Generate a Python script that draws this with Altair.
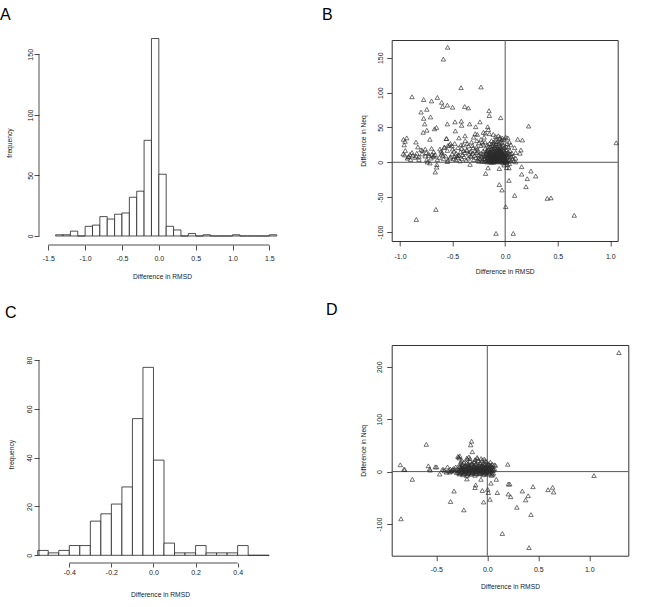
import altair as alt
import pandas as pd

FONT = "Liberation Sans"
INK = "#222222"
MINUS = "\u2212"

# ---------------- data ----------------
# Panel A histogram: bin edges and counts
a_edges = [-1.4, -1.3, -1.2, -1.1, -1.0, -0.9, -0.8, -0.7, -0.6, -0.5, -0.4, -0.3,
           -0.2, -0.1, 0.0, 0.1, 0.2, 0.3, 0.4, 0.5, 0.6, 0.7, 0.8, 0.9, 1.0, 1.1,
           1.2, 1.3, 1.4, 1.5, 1.6]
a_counts = [1, 1, 4, 0, 8, 9, 16, 14, 18, 19, 32, 37, 79, 163, 51, 8, 5, 0, 2, 0,
            1, 0, 0, 0, 1, 0, 0, 0, 0, 1]

# Panel C histogram
c_edges = [-0.55, -0.5, -0.45, -0.4, -0.35, -0.3, -0.25, -0.2, -0.15, -0.1, -0.05,
           0.0, 0.05, 0.1, 0.15, 0.2, 0.25, 0.3, 0.35, 0.4, 0.45, 0.5, 0.55]
c_counts = [2, 1, 2, 4, 4, 14, 17, 21, 28, 56, 77, 39, 5, 1, 1, 4, 1, 1, 1, 4, 0, 0]

# Panel B scatter (Difference in RMSD, Difference in Neq)
b_points = [
    (-0.547, 165), (-0.588, 148), (-0.42, 107), (-0.23, 108), (-0.886, 94), (-0.775, 90),
    (-0.70, 88), (-0.645, 93), (-0.604, 86), (-0.595, 80), (-0.55, 82), (-0.50, 79),
    (-0.385, 80), (-0.35, 78), (-0.745, 76), (-0.80, 72), (-0.775, 63), (-0.71, 65),
    (-0.154, 74), (-0.151, 67), (-0.043, 64), (0.223, 52), (-0.765, 55), (-0.653, 50),
    (-0.672, 48), (-0.55, 55), (-0.477, 58), (-0.417, 59), (-0.414, 53), (-0.338, 55),
    (-0.24, 58), (-0.28, 51), (-0.166, 51), (-0.745, 46), (-0.78, 43), (-0.474, 45),
    (-0.382, 38), (-0.44, 35), (-0.56, 34), (-0.716, 33), (-0.936, 35), (-0.952, 30),
    (-0.96, 25), (-0.967, 33), (-0.848, 29), (-0.83, 22), (-0.788, 17), (-0.76, 19),
    (-0.886, 14), (-0.905, 11.5), (-0.955, 10.5), (-0.917, 8), (-0.848, 9), (-0.82, 7.7),
    (-0.745, 3.8), (-0.74, 0.5), (-0.716, -1), (-0.73, 12.5), (-0.697, 11.5), (-0.678, 9.6),
    (-0.65, -3.4), (-0.665, -14), (-0.652, -7), (-0.659, -67.6), (-0.845, -82),
    (-0.61, 16), (-0.59, 10), (-0.557, 34), (-0.545, 24), (-0.577, 22), (-0.52, 27),
    (-0.506, 23.5), (-0.486, 16), (-0.46, 9), (-0.44, 10), (-0.55, 1), (-0.49, 5),
    (-0.52, 7.7), (-0.42, 25), (-0.395, 17), (-0.414, 20), (-0.363, 17), (-0.35, 23.5),
    (-0.334, 15), (-0.322, 8.6), (-0.334, -3), (-0.312, 24), (-0.30, 36), (-0.285, 41),
    (-0.265, 40), (-0.27, 22), (-0.26, 16), (-0.25, 1.4), (-0.217, 29), (-0.207, 43),
    (-0.19, 42), (-0.16, 47), (-0.15, 41), (-0.186, -16), (-0.163, -8), (-0.113, 40),
    (-0.09, 37), (-0.065, 38), (-0.05, 34), (-0.027, 35), (0.005, 36), (0.025, 35),
    (0.04, 29), (0.055, 25), (-0.056, -9), (-0.056, -32), (-0.03, -39.7), (0.036, -26),
    (0.015, -7.6), (0.036, -8), (0.005, -63.6), (-0.087, -102), (0.077, -102),
    (0.09, -47.5), (0.119, 33), (0.163, 32), (0.15, 17.6), (0.14, 13), (0.1, 6),
    (0.1, 0.6), (0.157, -6.3), (0.157, -17), (0.245, -12.6), (0.21, -23.5), (0.29, -19.7),
    (0.198, -35), (0.40, -51.7), (0.435, -51), (0.657, -76), (1.056, 28),
    # dense cluster near the origin
    (-0.02, 2), (-0.01, 5), (0.0, 8), (0.01, 3), (0.02, 6), (-0.03, 10), (-0.04, 4),
    (-0.05, 7), (-0.06, 2), (-0.07, 9), (-0.08, 5), (-0.09, 3), (-0.10, 6), (-0.11, 2),
    (-0.12, 8), (-0.13, 4), (-0.14, 1), (-0.15, 6), (-0.16, 3), (-0.17, 9), (-0.18, 2),
    (-0.19, 5), (-0.20, 1), (-0.02, 12), (-0.03, 15), (-0.04, 18), (-0.05, 13),
    (-0.06, 16), (-0.07, 20), (-0.08, 12), (-0.09, 14), (-0.10, 17), (-0.11, 11),
    (-0.12, 13), (-0.13, 10), (-0.14, 12), (-0.15, 15), (-0.16, 11), (-0.18, 13),
    (-0.20, 10), (-0.22, 8), (-0.24, 5), (-0.26, 3), (-0.28, 7), (-0.30, 4),
    (0.0, 14), (0.01, 18), (0.02, 11), (0.03, 9), (0.04, 4), (0.03, 15), (-0.01, 21),
    (-0.02, 25), (-0.03, 28), (-0.05, 23), (-0.06, 27), (-0.08, 22), (-0.09, 26),
    (-0.1, 21), (-0.12, 24), (-0.13, 19), (-0.14, 22), (-0.16, 19), (-0.17, 17),
    (-0.19, 20), (-0.21, 16), (-0.23, 13), (-0.25, 11), (-0.27, 14), (-0.29, 10),
    (-0.31, 13), (-0.33, 9), (-0.35, 6), (-0.37, 3), (-0.39, 8), (-0.41, 5), (-0.43, 2),
    (-0.45, 7), (-0.47, 4), (-0.04, 1), (-0.07, 0.5), (-0.11, 0), (-0.15, 0.5),
    (-0.02, -1), (0.0, 0.5), (0.02, 1), (-0.06, 3.5), (-0.09, 7.5), (-0.035, 6.5),
    (-0.015, 9.5), (-0.055, 11), (-0.085, 9.5), (-0.115, 4.5), (-0.135, 7), (-0.165, 6.5),
    (-0.125, 1.5), (-0.095, 1), (-0.075, 14), (-0.045, 16), (-0.025, 19), (0.005, 11),
    (0.015, 13.5), (-0.105, 11.5), (-0.145, 9), (-0.175, 4.5), (-0.185, 11), (-0.215, 4),
    (-0.235, 9.5), (-0.255, 6), (-0.265, 19), (-0.285, 17), (-0.305, 21), (-0.325, 16),
    (-0.345, 12), (-0.365, 18), (-0.385, 14), (-0.405, 11), (-0.425, 15), (-0.445, 10),
    (-0.465, 13), (-0.485, 8), (-0.505, 12), (-0.525, 6), (-0.545, 3), (-0.565, 9),
    (-0.585, 5), (-0.605, 12), (-0.625, 7), (-0.645, 4), (-0.665, 11), (-0.685, 8),
    (-0.705, 6), (-0.725, 10), (-0.76, 9), (-0.79, 12), (-0.82, 4), (-0.86, 7),
    (-0.88, 10), (-0.93, 6), (-0.97, 12), (-0.95, 17), (-0.03, 32), (-0.05, 36),
    (-0.07, 30), (-0.09, 33), (-0.11, 29), (-0.13, 31), (-0.15, 27), (-0.17, 25),
    (-0.19, 29), (-0.21, 26), (-0.23, 24), (-0.25, 28), (-0.01, 33), (0.02, 27),
    (0.03, 22), (0.045, 17), (0.05, 12), (0.06, 8), (0.07, 5), (0.08, 2), (0.04, -2),
    (0.02, -3), (-0.01, -4), (0.055, 2), (0.065, 13), (0.075, 9), (0.09, 21), (0.1, 14),
    (-0.2, 36), (-0.23, 33), (-0.27, 31), (-0.32, 29), (-0.36, 27), (-0.38, 31),
    (-0.4, 25), (-0.45, 21), (-0.48, 27), (-0.5, 19), (-0.53, 25), (-0.55, 17),
    (-0.58, 21), (-0.6, 14), (-0.62, 19), (-0.68, 15), (-0.7, 20), (-0.75, 14),
    (-0.8, 18), (-0.84, 13), (-0.9, 4), (-0.92, 8),
    (-0.005, 1), (-0.015, 3.5), (-0.025, 6), (-0.035, 2.5), (-0.045, 8.5), (-0.055, 5),
    (-0.065, 7.5), (-0.075, 3), (-0.085, 6.5), (-0.095, 4.5), (-0.105, 8), (-0.115, 1),
    (-0.125, 5.5), (-0.135, 3), (-0.145, 7), (-0.155, 2), (-0.165, 9.5), (-0.005, 6.5),
    (-0.015, 12), (-0.025, 14.5), (-0.035, 10.5), (-0.045, 13), (-0.055, 17.5),
    (-0.065, 12.5), (-0.075, 10), (-0.085, 16.5), (-0.095, 11), (-0.105, 14),
    (-0.115, 17), (-0.125, 10.5), (-0.135, 15), (-0.145, 13.5), (-0.155, 10),
    (-0.165, 16), (0.005, 4), (0.015, 8.5), (0.025, 3), (0.035, 12), (-0.01, 16.5),
    (-0.02, 9), (-0.04, 21), (-0.06, 19.5), (-0.08, 18), (-0.1, 23.5), (-0.12, 19),
    (-0.14, 17.5), (-0.16, 22.5), (-0.18, 16), (-0.07, 24), (-0.03, 23), (0.01, 22),
    (-0.11, 26.5), (-0.05, 29), (-0.09, 30), (-0.13, 26), (-0.17, 13), (-0.19, 8.5),
    (-0.21, 12.5), (-0.2, 5.5), (-0.22, 1.5), (-0.03, 0.5), (-0.08, 1.5), (-0.13, 0),
    (-0.17, 0.5), (0.01, 0), (-0.06, 9), (-0.1, 9.5), (-0.14, 10.5), (-0.02, 7.5),
    (-0.045, 3), (-0.075, 5.5), (-0.105, 3.5), (-0.12, 6.5), (-0.15, 4), (-0.09, 12.5),
    (-0.05, 15), (-0.03, 13), (-0.07, 16.5), (-0.11, 19.5), (-0.13, 14),
]

# Panel D scatter
d_points = [
    (1.29, 227), (1.046, -7.5), (-0.598, 52), (-0.853, 13), (-0.817, 4.4), (-0.735, -14.7),
    (-0.846, -90), (-0.578, 11), (-0.565, 5), (-0.51, 9), (-0.497, 9), (-0.467, -4.6),
    (-0.428, 4), (-0.39, 9), (-0.363, 5), (-0.34, 4), (-0.326, -37), (-0.36, -57),
    (-0.23, -73), (-0.288, 29), (-0.275, 26), (-0.255, 18), (-0.2, -14), (-0.196, 24),
    (-0.17, 25), (-0.163, 51), (-0.154, 58), (-0.147, 38), (-0.124, 19.6), (-0.114, -25.5),
    (-0.12, -30.6), (-0.095, 25), (-0.062, -14.7), (-0.049, -36), (-0.036, -58),
    (-0.02, 21), (0.004, -33.8), (0.01, -40), (0.026, -52.8), (0.036, -22), (0.052, -6),
    (0.069, 13), (0.088, -14.7), (0.098, -40), (0.147, -118), (0.2, 14), (0.206, -23.7),
    (0.22, -23.7), (0.206, -42.7), (0.229, -47.8), (0.29, -68), (0.343, -37), (0.376, -54),
    (0.40, -46), (0.428, -82), (0.448, -28.8), (0.409, -145), (0.595, -34.5), (0.64, -30),
    (0.65, -39), (-0.56, 3), (-0.81, 4),
    # dense cluster near the origin
    (-0.28, 2), (-0.26, 5), (-0.25, -1), (-0.24, 8), (-0.23, 3), (-0.22, 0), (-0.21, 6),
    (-0.2, -3), (-0.19, 4), (-0.18, 10), (-0.17, 1), (-0.16, 7), (-0.15, -2), (-0.14, 5),
    (-0.13, 12), (-0.12, 2), (-0.11, 8), (-0.1, -1), (-0.09, 4), (-0.08, 10), (-0.07, 1),
    (-0.06, 6), (-0.05, 14), (-0.04, 3), (-0.03, 9), (-0.02, -2), (-0.01, 5), (0.0, 11),
    (0.01, 2), (0.02, 7), (0.03, 0), (0.04, 4), (0.05, 9), (0.06, -3), (0.07, 6),
    (0.08, 12), (-0.27, 10), (-0.25, 14), (-0.23, 18), (-0.21, 12), (-0.19, 15),
    (-0.17, 20), (-0.15, 14), (-0.13, 18), (-0.11, 15), (-0.09, 21), (-0.07, 17),
    (-0.05, 22), (-0.03, 16), (-0.01, 19), (0.01, 15), (0.03, 18), (0.05, 14),
    (-0.24, -6), (-0.2, -8), (-0.16, -5), (-0.12, -7), (-0.08, -4), (-0.04, -6),
    (0.0, -5), (0.04, -7), (-0.18, -1.5), (-0.14, 0.5), (-0.1, 2.5), (-0.06, -0.5),
    (-0.02, 1.5), (0.02, 3.5), (-0.22, 2.5), (-0.26, 0), (-0.3, -2), (-0.32, 1),
    (-0.34, 3), (-0.36, 0.5), (-0.38, 2), (-0.40, -1), (-0.42, 1.5), (-0.44, 4),
    (-0.255, 8.5), (-0.215, 9.5), (-0.175, 5.5), (-0.135, 8.5), (-0.095, 6.5),
    (-0.055, 9.5), (-0.015, 7.5), (0.025, 10.5), (0.065, 3), (-0.245, 12), (-0.205, 16.5),
    (-0.165, 13), (-0.125, 10), (-0.085, 13.5), (-0.045, 11.5), (-0.005, 13),
    (0.035, 12.5), (0.015, -1), (-0.035, -1.5), (-0.075, -2), (-0.115, -3.5),
    (-0.155, -4), (-0.195, -5), (-0.235, -3), (-0.275, -4.5), (-0.29, 6), (-0.31, 9),
    (-0.33, 6), (0.045, -3), (-0.065, 3), (-0.105, 5), (-0.145, 3), (-0.185, 7.5),
    (-0.045, 5.5), (-0.005, 3), (0.055, 5.5), (-0.28, 28), (-0.27, 30), (-0.25, 22),
    (-0.2, 26), (-0.18, 28), (-0.12, 23), (-0.1, 27), (-0.06, 25), (-0.03, 24),
    (-0.29, 1), (-0.27, 3), (-0.25, 6), (-0.23, -1), (-0.21, 4), (-0.19, 1), (-0.17, 8),
    (-0.15, 3), (-0.13, 6), (-0.11, 0), (-0.09, 7), (-0.07, 4), (-0.05, 2), (-0.03, 6),
    (-0.01, 1), (0.01, 8), (0.03, 5), (0.05, 2), (-0.28, -2), (-0.24, 1.5), (-0.2, 1),
    (-0.16, 2), (-0.12, 4.5), (-0.08, 6.5), (-0.04, 8), (0.0, 6), (0.04, 9), (-0.26, 9),
    (-0.22, 11), (-0.18, 13), (-0.14, 10), (-0.1, 12), (-0.06, 11), (-0.02, 10),
    (0.02, 13), (-0.265, -3), (-0.225, -4), (-0.185, -2.5), (-0.145, -1.5),
    (-0.105, -4.5), (-0.065, -3.5), (-0.025, -4), (0.015, -3), (-0.245, 3.5),
    (-0.205, 7), (-0.165, 4), (-0.125, -0.5), (-0.085, 1.5), (-0.045, 0), (-0.005, -0.5),
    (0.035, 2), (-0.31, 4), (-0.35, 2), (-0.37, -1), (-0.27, 15), (-0.23, 9),
    (-0.19, 11.5), (-0.15, 16), (-0.11, 10), (-0.07, 14.5), (-0.03, 12.5),
]

a_xticks = [-1.5, -1.0, -0.5, 0.0, 0.5, 1.0, 1.5]
a_yticks = [0, 50, 100, 150]
c_xticks = [-0.4, -0.2, 0.0, 0.2, 0.4]
c_yticks = [0, 20, 40, 60, 80]
b_xticks = [-1.0, -0.5, 0.0, 0.5, 1.0]
b_yticks = [-100, -50, 0, 50, 100, 150]
d_xticks = [-0.5, 0.0, 0.5, 1.0]
d_yticks = [-100, 0, 100, 200]

XTITLE = "Difference in RMSD"
one = pd.DataFrame({"k": [0]})


def lab(fmt):
    return "replace(format(datum.value, '%s'), '%s', '-')" % (fmt, MINUS)


def xaxis(values, fmt, tick, lpad, tpad):
    return alt.Axis(values=values, title=XTITLE, domain=False, grid=False,
                    tickSize=tick, tickColor=INK, tickWidth=0.8,
                    labelPadding=lpad, titlePadding=tpad, labelExpr=lab(fmt),
                    labelFont=FONT, labelFontSize=7, labelColor=INK,
                    titleFont=FONT, titleFontSize=6.7, titleFontWeight="normal",
                    titleColor=INK, labelFlush=False, labelOverlap=False)


def yaxis(values, fmt, title, tick, lpad, tpad):
    return alt.Axis(values=values, title=title, domain=False, grid=False,
                    tickSize=tick, tickColor=INK, tickWidth=0.8,
                    labelPadding=lpad, titlePadding=tpad, labelExpr=lab(fmt),
                    labelAngle=270, labelAlign="center", labelBaseline="bottom",
                    labelFont=FONT, labelFontSize=7, labelColor=INK,
                    titleFont=FONT, titleFontSize=6.7, titleFontWeight="normal",
                    titleColor=INK, labelFlush=False, labelOverlap=False)


def letter_layer(txt, lx, ly):
    return alt.Chart(one).mark_text(text=txt, font=FONT, fontSize=16, align="left",
                                    baseline="alphabetic", color="black").encode(
        x=alt.value(lx), y=alt.value(ly))


def hist_panel(edges, counts, w, h, xdom, ydom, xt, yt, xline, yline, ax, ay, letter):
    df = pd.DataFrame({"x0": edges[:-1], "x1": edges[1:], "n": counts})
    bars = alt.Chart(df).mark_rect(fill="white", stroke=INK, strokeWidth=0.8).encode(
        x=alt.X("x0:Q", scale=alt.Scale(domain=xdom, nice=False, zero=False), axis=ax),
        x2="x1:Q",
        y=alt.Y("n:Q", scale=alt.Scale(domain=ydom, nice=False, zero=False), axis=ay),
        y2=alt.datum(0),
    )
    xl = alt.Chart(one).mark_rule(color=INK, strokeWidth=0.8).encode(
        x=alt.datum(xline[0]), x2=alt.datum(xline[1]), y=alt.value(h))
    yl = alt.Chart(one).mark_rule(color=INK, strokeWidth=0.8).encode(
        y=alt.datum(yline[0]), y2=alt.datum(yline[1]), x=alt.value(0))
    layers = [bars, xl, yl, letter]
    return alt.layer(*layers).properties(width=w, height=h)


def scatter_panel(points, w, h, xdom, ydom, ax, ay, letter):
    df = pd.DataFrame(points, columns=["rmsd", "neq"])
    pts = alt.Chart(df).mark_point(shape="triangle-up", filled=False, size=20,
                                   color="#2a2a2a", strokeWidth=0.65, opacity=1).encode(
        x=alt.X("rmsd:Q", scale=alt.Scale(domain=xdom, nice=False, zero=False), axis=ax),
        y=alt.Y("neq:Q", scale=alt.Scale(domain=ydom, nice=False, zero=False), axis=ay),
    )
    vl = alt.Chart(one).mark_rule(color="#555555", strokeWidth=1).encode(x=alt.datum(0))
    hl = alt.Chart(one).mark_rule(color="#555555", strokeWidth=1).encode(y=alt.datum(0))
    return alt.layer(vl, hl, pts, letter).properties(
        width=w, height=h, view=alt.ViewBackground(stroke="#333333", strokeWidth=1))


anchor = alt.Chart(one).mark_rule(strokeOpacity=0, opacity=0).encode(
    x=alt.value(-39), x2=alt.value(-38), y=alt.value(-40))

A = hist_panel(
    a_edges, a_counts, 246, 205, [-1.626, 1.712], [-7.43, 161.8], a_xticks, a_yticks,
    (-1.5, 1.5), (0, 150),
    xaxis(a_xticks, ".1f", 5, 4, 12),
    yaxis(a_yticks, "d", "frequency", 5, 1, 13.5),
    letter_layer("A", -39, -20),
)
A = alt.layer(A, anchor)

B = scatter_panel(
    b_points, 226, 201, [-1.079, 1.070], [-112.9, 175.4],
    xaxis(b_xticks, ".1f", 5, 6, 9.3),
    yaxis(b_yticks, "d", "Difference in Neq", 5, 3.2, 9.7),
    letter_layer("B", -69.7, -20),
)

C = hist_panel(
    c_edges, c_counts, 242, 218, [-0.544, 0.606], [-3.15, 86.16], c_xticks, c_yticks,
    (-0.4, 0.4), (0, 80),
    xaxis(c_xticks, ".1f", 4, 1.5, 16),
    yaxis(c_yticks, "d", "frequency", 5, 1.8, 10.7),
    letter_layer("C", -34, -27),
)

D = scatter_panel(
    d_points, 236.6, 210.7, [-0.937, 1.382], [-160.4, 241.5],
    xaxis(d_xticks, ".1f", 5, 5.1, 11.1),
    yaxis(d_yticks, "d", "Difference in Neq", 5, 4.2, 9),
    letter_layer("D", -65.7, -30),
)

# rows are aligned to the tallest cell (218), so the row gap is reduced accordingly
chart = alt.ConcatChart(
    concat=[A, B, C, D], columns=2,
    spacing={"row": 87, "column": 106.7},
    align={"row": "all", "column": "none"},
    bounds="flush",
    padding={"left": 0, "top": 0, "right": 5, "bottom": 5},
    background="white",
).configure_view(stroke=None)

chart.save("out.html", embed_options={"renderer": "svg", "actions": False})
